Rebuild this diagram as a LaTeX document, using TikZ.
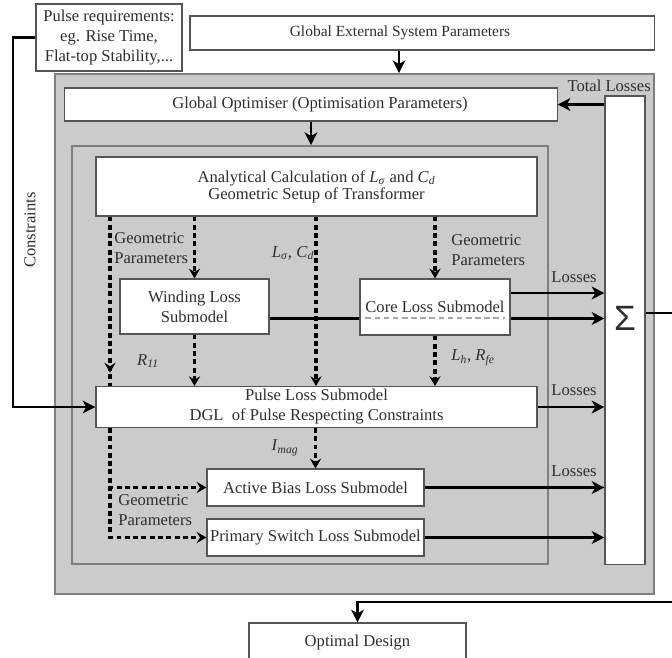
\documentclass[tikz,border=0pt]{standalone}
\usepackage{fontspec}
\setmainfont{Liberation Serif}
\newfontfamily\sigmafont{Liberation Sans}
\usetikzlibrary{arrows.meta,decorations.markings}

\definecolor{panelgray}{HTML}{CBCBCB}
\definecolor{framegray}{HTML}{7F7F7F}
\definecolor{boxline}{HTML}{555555}
\definecolor{textgray}{HTML}{2E2E2E}

\begin{document}
\begin{tikzpicture}
			[
			x=0.025cm, y=-0.025cm,
			every node/.append style={text=textgray, font=\fontsize{11.8}{14.2}\selectfont},
			block/.style={draw=boxline, fill=white, line width=0.8pt, inner sep=2pt, align=center},
			panel/.style={draw=framegray, fill=panelgray, line width=1.2pt, inner sep=0pt},
			lbl/.style={inner sep=0pt, align=left},
			flow/.style={->, line width=1.8pt},
			dasharrow/.style={->, >={Stealth[length=7pt,width=8pt,inset=2.5pt]},
				line width=2.2pt, dash pattern=on 3.5pt off 2.4pt},
			>={Stealth[length=9pt,width=9pt,inset=2.5pt]}]
			\clip (0,0) rectangle (672,658);
			% containers
			\node (outer) [panel, minimum width=14.975cm, minimum height=13cm] at (354.5,334) {};
			\node (inner) [panel, minimum width=11.9cm, minimum height=10.45cm] at (310,355) {};
			% blocks
			\node (pulsereq)  [block, minimum width=3.65cm, minimum height=1.675cm] at (109,37.5)
				{Pulse requirements:\\eg. Rise Time,\\Flat-top Stability,...};
			\node (globalext) [block, minimum width=11.6cm, minimum height=0.85cm,
				font=\fontsize{11}{13}\selectfont] at (422,33)
				{Global External System Parameters\hspace*{1.1cm}};
			\node (optimiser) [block, minimum width=12.3cm, minimum height=0.825cm] at (311,104.5)
				{\hspace*{0.45cm}Global Optimiser (Optimisation Parameters)};
			\node (analytic)  [block, minimum width=11.025cm, minimum height=1.475cm] at (316.5,186.5)
				{Analytical Calculation of \textit{L}\textsubscript{\textit{σ}} and \textit{C}\textsubscript{\textit{d}}\\[-2pt]Geometric Setup of Transformer};
			\node (sigma)     [block, minimum width=1cm, minimum height=11.7cm] at (625,330) {};
			\node (sum) at (625,318) {\sigmafont\fontsize{25}{25}\selectfont Σ};
			\node (winding)   [block, minimum width=3.725cm, minimum height=1.375cm] at (194.5,306.5)
				{Winding Loss\\Submodel};
			\coordinate (wout) at ([yshift=-3mm]winding.east);
			\draw[flow] (wout) -- (wout -| sigma.west);
			\node (core)      [block, minimum width=3.75cm, minimum height=1.4cm] at (435,307)
				{Core Loss Submodel};
			\draw[draw=black!35, line width=1.1pt, dash pattern=on 4pt off 2.5pt]
				([xshift=1.5mm,yshift=-2.75mm]core.west) -- ([xshift=-1.5mm,yshift=-2.75mm]core.east);
			\node (pulse)     [block, minimum width=11.025cm, minimum height=1cm] at (316.5,407)
				{Pulse Loss Submodel\\DGL\ \ of Pulse Respecting Constraints};
			\node (active)    [block, minimum width=5.425cm, minimum height=0.925cm] at (315.5,487.5)
				{Active Bias Loss Submodel};
			\node (primary)   [block, minimum width=5.425cm, minimum height=0.925cm] at (315.5,537.5)
				{Primary Switch Loss Submodel};
			\node (optimal)   [block, minimum width=5.425cm, minimum height=1cm] at (357.5,643)
				{Optimal Design};
			% helper columns
			\coordinate (gx) at (399,0);
			\coordinate (geo) at (110,0);
			\coordinate (mid) at (316,0);
			\coordinate (cline) at (13,200);
			\coordinate (loop) at (690,602);
			\coordinate (cout) at ([yshift=3.5mm]core.east);
			% solid flows
			\draw[flow] (globalext.south -| gx) -- (outer.north -| gx);
			\draw[flow] (optimiser.south) -- (inner.north -| optimiser.south);
			\draw[flow] (sigma.west |- optimiser.east) -- (optimiser.east);
			\draw[flow] (cout) -- (cout -| sigma.west);
			\draw[flow] (pulse.east) -- (pulse.east -| sigma.west);
			\draw[flow] (active.east) -- (active.east -| sigma.west);
			\draw[flow] (primary.east) -- (primary.east -| sigma.west);
			\draw[flow] ([yshift=4.25mm]sigma.east) -| (loop) -| (optimal.north);
			\draw[flow] (pulsereq.west) -| (cline) |- (pulse.west);
			% dashed parameter flows
			\draw[line width=2.2pt, dash pattern=on 3.5pt off 2.4pt, postaction={decorate},
				decoration={markings, mark=at position 0.92 with {\arrow{Stealth[length=7pt,width=8pt,inset=2.5pt]}}}]
				(analytic.south -| geo) -- (pulse.north -| geo);
			\draw[dasharrow] (analytic.south -| winding) -- (winding.north);
			\draw[dasharrow] (winding.south) -- (pulse.north -| winding);
			\draw[dasharrow] (analytic.south -| mid) -- (pulse.north -| mid);
			\draw[dasharrow] (analytic.south -| core) -- (core.north);
			\draw[dasharrow] (core.south) -- (pulse.north -| core);
			\draw[dasharrow] (pulse.south -| active) -- (active.north);
			\draw[dasharrow] (pulse.south -| geo) |- (active.west);
			\draw[dasharrow] (pulse.south -| geo) |- (primary.west);
			% labels
			\node (totallbl) [lbl, anchor=east] at (651,86) {Total Losses};
			\node (losscore) [lbl] at (574,277) {Losses};
			\node (losspulse) [lbl] at (574,390) {Losses};
			\node (lossbias) [lbl] at (574,471) {Losses};
			\node (geoleft) [lbl, anchor=west] at (114,248) {Geometric\\Parameters};
			\node (georight) [lbl, anchor=west] at (451,250) {Geometric\\Parameters};
			\node (geobottom) [lbl, anchor=west] at (118,510) {Geometric\\Parameters};
			\node (rlbl) [lbl] at (148,361) {\textit{R}\textsubscript{\textit{11}}};
			\node (lclbl) [lbl] at (293,253) {\textit{L}\textsubscript{\textit{σ}}, \textit{C}\textsubscript{\textit{d}}};
			\node (lhlbl) [lbl] at (473,358) {\textit{L}\textsubscript{\textit{h}}, \textit{R}\textsubscript{\textit{fe}}};
			\node (imaglbl) [lbl] at (285,448) {\textit{I}\textsubscript{\textit{mag}}};
			\node (conslbl) [lbl, rotate=90] at (30,230) {Constraints};
		\end{tikzpicture}
\end{document}
